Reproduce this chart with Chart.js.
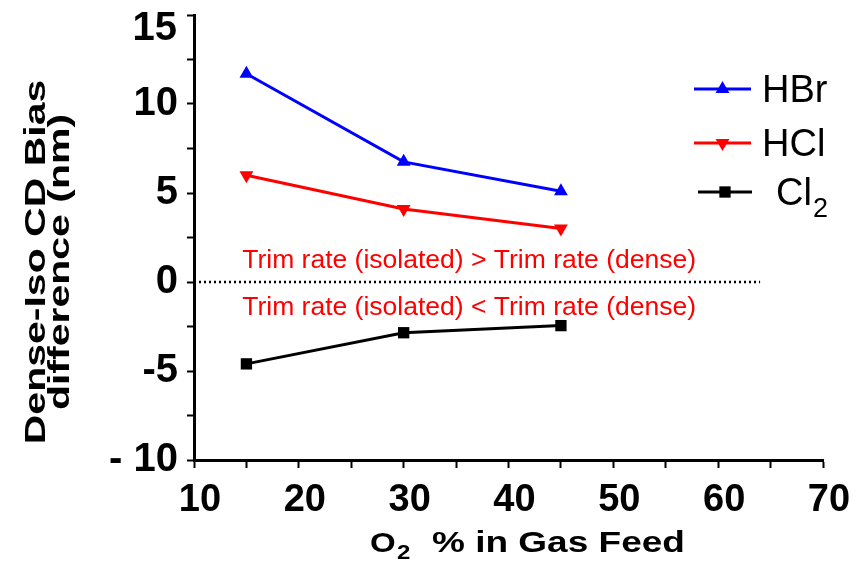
<!DOCTYPE html>
<html>
<head>
<meta charset="utf-8">
<script src="https://cdn.jsdelivr.net/npm/chart.js@4.4.0/dist/chart.umd.min.js"></script>
<style>
  body { margin: 0; background: #fff; }
  #wrap { width: 868px; height: 563px; }
</style>
</head>
<body>
<div id="wrap"><canvas id="myChart"></canvas></div>
<script>
// data
const o2Feed = [15, 30, 45];
const hbr = [11.7, 6.75, 5.1];
const hcl = [6.0, 4.1, 3.0];
const cl2 = [-4.6, -2.85, -2.45];
const zeroLine = [[10, 0], [64, 0]];
const noteAbove = "Trim rate (isolated) > Trim rate (dense)";
const noteBelow = "Trim rate (isolated) < Trim rate (dense)";
const yTitle = ["Dense-Iso CD Bias", "difference (nm)"];

const FONT = "'Liberation Sans', Arial, sans-serif";

function pts(xs, ys) {
  return xs.map(function (x, i) { return { x: x, y: ys[i] }; });
}

// legend drawn as line + marker samples, like the original figure
const legendRows = [
  { text: "HBr", sub: "", color: "#0000ff", style: "triangle", rot: 0, r: 8, y: 89, x0: 694, x1: 751, tx: 762 },
  { text: "HCl", sub: "", color: "#ff0000", style: "triangle", rot: 180, r: 8, y: 143, x0: 694, x1: 751, tx: 762 },
  { text: "Cl", sub: "2", color: "#000000", style: "rect", rot: 0, r: 8, y: 192, x0: 698, x1: 752, tx: 776 }
];

const extras = {
  id: "extras",
  afterDatasetsDraw(chart) {
    const c = chart.ctx;
    const xs = chart.scales.x, ys = chart.scales.y;
    c.save();
    // notes around the zero line
    c.fillStyle = "#ff0000";
    c.font = "26.5px " + FONT;
    c.textAlign = "left";
    c.textBaseline = "alphabetic";
    c.fillText(noteAbove, xs.getPixelForValue(14.6), ys.getPixelForValue(0) - 14);
    c.fillText(noteBelow, xs.getPixelForValue(14.6), ys.getPixelForValue(0) + 33);

    // legend
    legendRows.forEach(function (row) {
      c.strokeStyle = row.color;
      c.lineWidth = 3;
      c.beginPath();
      c.moveTo(row.x0, row.y);
      c.lineTo(row.x1, row.y);
      c.stroke();
      c.fillStyle = row.color;
      Chart.helpers.drawPoint(c, { pointStyle: row.style, radius: row.r, rotation: row.rot, borderWidth: 0 }, (row.x0 + row.x1) / 2, row.y);
      c.fillStyle = "#000";
      c.font = "38px " + FONT;
      c.textAlign = "left";
      c.textBaseline = "middle";
      c.fillText(row.text, row.tx, row.y + 3);
      if (row.sub) {
        const w = c.measureText(row.text).width;
        c.font = "27px " + FONT;
        c.fillText(row.sub, row.tx + w + 1, row.y + 18);
      }
    });

    // top tick label sits a little below its tick in the source
    c.fillStyle = "#000";
    c.font = "bold 40px " + FONT;
    c.textAlign = "right";
    c.textBaseline = "middle";
    c.fillText("15", 177, 29);

    // y axis title, a bit narrow like the source
    c.textBaseline = "alphabetic";
    c.textAlign = "center";
    c.translate(0, 262);
    c.rotate(-Math.PI / 2);
    c.scale(1, 0.7);
    c.font = "bold 41px " + FONT;
    c.fillText(yTitle[0], 0, 64);
    c.fillText(yTitle[1], 0, 98);
    c.restore();

    // x axis title with subscript
    c.save();
    c.fillStyle = "#000";
    c.textAlign = "left";
    c.textBaseline = "alphabetic";
    c.translate(370, 552);
    c.scale(1, 0.82);
    c.font = "bold 33px " + FONT;
    c.fillText("O", 0, 0);
    c.font = "bold 24px " + FONT;
    c.fillText("2", 27, 9);
    c.font = "bold 37px " + FONT;
    c.fillText("% in Gas Feed", 62, 0);
    c.restore();
  }
};

const ctx = document.getElementById("myChart");
new Chart(ctx, {
  type: "line",
  data: {
    datasets: [
      {
        label: "HBr",
        data: pts(o2Feed, hbr),
        borderColor: "#0000ff",
        backgroundColor: "#0000ff",
        borderWidth: 3,
        pointStyle: "triangle",
        pointRadius: 8,
        pointBorderWidth: 0
      },
      {
        label: "HCl",
        data: pts(o2Feed, hcl),
        borderColor: "#ff0000",
        backgroundColor: "#ff0000",
        borderWidth: 3,
        pointStyle: "triangle",
        pointRotation: 180,
        pointRadius: 8,
        pointBorderWidth: 0
      },
      {
        label: "Cl2",
        data: pts(o2Feed, cl2),
        borderColor: "#000000",
        backgroundColor: "#000000",
        borderWidth: 3,
        pointStyle: "rect",
        pointRadius: 8,
        pointBorderWidth: 0
      },
      {
        label: "zero",
        data: zeroLine.map(function (p) { return { x: p[0], y: p[1] }; }),
        borderColor: "#000000",
        borderWidth: 2.5,
        borderDash: [2, 3],
        pointRadius: 0
      }
    ]
  },
  options: {
    responsive: true,
    maintainAspectRatio: false,
    animation: false,
    layout: { padding: { left: 0, right: 45, top: 15, bottom: 0 } },
    plugins: {
      legend: { display: false },
      tooltip: { enabled: false }
    },
    scales: {
      x: {
        type: "linear",
        min: 10,
        max: 70,
        afterFit: function (s) {
          s.height = 103;
          s.paddingLeft = 0;
          s.paddingRight = 0;
        },
        ticks: {
          stepSize: 5,
          color: "#000",
          font: { family: FONT, size: 38, weight: "bold" },
          padding: 10,
          labelOffset: 6,
          maxRotation: 0,
          autoSkip: false,
          callback: function (v) { return v % 10 === 0 ? v : ""; }
        },
        grid: { drawOnChartArea: false, drawTicks: true, tickLength: 8, tickColor: "#000", tickWidth: 2 },
        border: { color: "#000", width: 3 }
      },
      y: {
        min: -10,
        max: 15,
        afterFit: function (s) {
          s.width = 194;
          s.paddingTop = 0;
          s.paddingBottom = 0;
        },
        ticks: {
          stepSize: 2.5,
          color: "#000",
          font: { family: FONT, size: 40, weight: "bold" },
          padding: 9,
          autoSkip: false,
          callback: function (v) {
            if (v % 5 !== 0 || v === 15) return "";
            return v === -10 ? "- 10" : v;
          }
        },
        grid: { drawOnChartArea: false, drawTicks: true, tickLength: 7, tickColor: "#000", tickWidth: 2 },
        border: { color: "#000", width: 3 }
      }
    }
  },
  plugins: [extras]
});
</script>
</body>
</html>
